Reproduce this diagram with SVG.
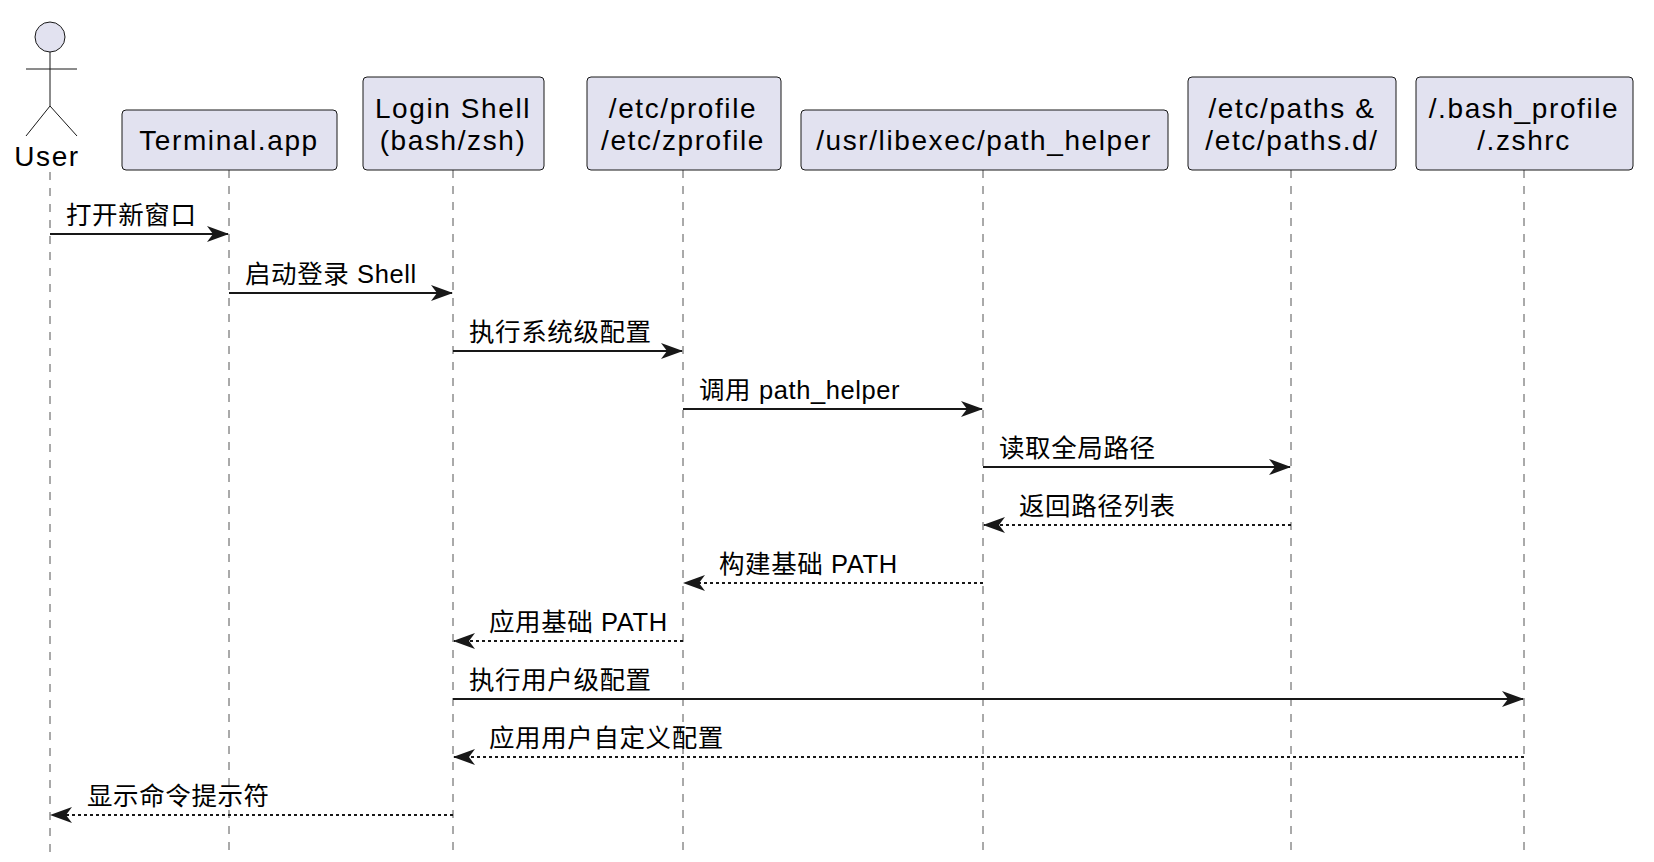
<svg xmlns="http://www.w3.org/2000/svg" width="1654" height="862" viewBox="0 0 1654 862">
<style>
.box{fill:#E2E2F0;stroke:#181818;stroke-width:1}
.t{font-family:"Liberation Sans",Arial,sans-serif;font-size:28px;letter-spacing:1.6px;fill:#000;text-anchor:middle}
.m{font-family:"Liberation Sans","Noto Sans CJK SC",sans-serif;font-size:25.5px;letter-spacing:0.6px;fill:#000}
.ll{stroke:#555;stroke-width:1;stroke-dasharray:8 8}
.a{stroke:#181818;stroke-width:1.8;fill:none}
.r{stroke:#181818;stroke-width:1.8;fill:none;stroke-dasharray:3 3}
</style>
<defs>
<marker id="ah" viewBox="0 0 22 16" refX="21" refY="8" markerWidth="22" markerHeight="16" markerUnits="userSpaceOnUse" orient="auto">
<path d="M0,0 L22,8 L0,16 L6,8 Z" fill="#181818"/>
</marker>
</defs>
<rect width="1654" height="862" fill="#fff"/>
<g id="lifelines">
<line class="ll" x1="50" y1="172" x2="50" y2="852"/>
<line class="ll" x1="229" y1="170" x2="229" y2="852"/>
<line class="ll" x1="453" y1="170" x2="453" y2="852"/>
<line class="ll" x1="683" y1="170" x2="683" y2="852"/>
<line class="ll" x1="983" y1="170" x2="983" y2="852"/>
<line class="ll" x1="1291" y1="170" x2="1291" y2="852"/>
<line class="ll" x1="1524" y1="170" x2="1524" y2="852"/>
</g>
<g id="user">
<circle cx="50" cy="37" r="15" fill="#E2E2F0" stroke="#181818"/>
<line x1="50" y1="52" x2="50" y2="106" stroke="#181818"/>
<line x1="26" y1="69" x2="77" y2="69" stroke="#181818"/>
<line x1="50" y1="106" x2="26" y2="136" stroke="#181818"/>
<line x1="50" y1="106" x2="77" y2="136" stroke="#181818"/>
<text class="t" x="47" y="166">User</text>
</g>
<g id="terminal"><rect class="box" x="122" y="110" width="215" height="60" rx="4"/><text class="t" x="229" y="150">Terminal.app</text></g>
<g id="login"><rect class="box" x="363" y="77" width="181" height="93" rx="4"/><text class="t" x="453" y="118">Login Shell</text><text class="t" x="453" y="150">(bash/zsh)</text></g>
<g id="profile"><rect class="box" x="587" y="77" width="194" height="93" rx="4"/><text class="t" x="683" y="118">/etc/profile</text><text class="t" x="683" y="150">/etc/zprofile</text></g>
<g id="pathhelper"><rect class="box" x="801" y="110" width="367" height="60" rx="4"/><text class="t" x="984" y="150">/usr/libexec/path_helper</text></g>
<g id="paths"><rect class="box" x="1188" y="77" width="208" height="93" rx="4"/><text class="t" x="1292" y="118">/etc/paths &amp;</text><text class="t" x="1292" y="150">/etc/paths.d/</text></g>
<g id="bashprofile"><rect class="box" x="1416" y="77" width="217" height="93" rx="4"/><text class="t" x="1524" y="118">/.bash_profile</text><text class="t" x="1524" y="150">/.zshrc</text></g>
<g id="connectors">
<line class="a" x1="50" y1="234" x2="228" y2="234" marker-end="url(#ah)"/>
<line class="a" x1="229" y1="293" x2="452" y2="293" marker-end="url(#ah)"/>
<line class="a" x1="453" y1="351" x2="682" y2="351" marker-end="url(#ah)"/>
<line class="a" x1="683" y1="409" x2="982" y2="409" marker-end="url(#ah)"/>
<line class="a" x1="983" y1="467" x2="1290" y2="467" marker-end="url(#ah)"/>
<line class="r" x1="1291" y1="525" x2="984" y2="525" marker-end="url(#ah)"/>
<line class="r" x1="983" y1="583" x2="684" y2="583" marker-end="url(#ah)"/>
<line class="r" x1="683" y1="641" x2="454" y2="641" marker-end="url(#ah)"/>
<line class="a" x1="453" y1="699" x2="1523" y2="699" marker-end="url(#ah)"/>
<line class="r" x1="1524" y1="757" x2="454" y2="757" marker-end="url(#ah)"/>
<line class="r" x1="453" y1="815" x2="51" y2="815" marker-end="url(#ah)"/>
</g>
<g id="labels">
<text class="m" x="66" y="224">打开新窗口</text>
<text class="m" x="245" y="283">启动登录 Shell</text>
<text class="m" x="469" y="341">执行系统级配置</text>
<text class="m" x="699" y="399">调用 path_helper</text>
<text class="m" x="999" y="457">读取全局路径</text>
<text class="m" x="1019" y="515">返回路径列表</text>
<text class="m" x="719" y="573">构建基础 PATH</text>
<text class="m" x="489" y="631">应用基础 PATH</text>
<text class="m" x="469" y="689">执行用户级配置</text>
<text class="m" x="489" y="747">应用用户自定义配置</text>
<text class="m" x="87" y="805">显示命令提示符</text>
</g>
</svg>
